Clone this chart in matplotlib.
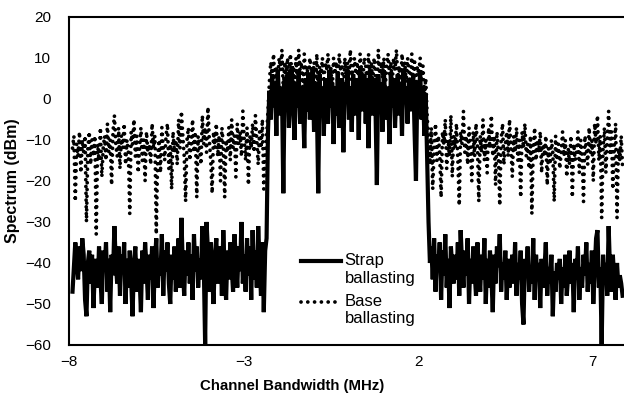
import numpy as np
import matplotlib
matplotlib.use("Agg")
import matplotlib.pyplot as plt

plt.rcParams["font.family"] = ["Liberation Sans", "DejaVu Sans"]

# frequency span of the captured trace (MHz), samples evenly spaced
FREQ_START = -7.90
FREQ_STOP = 7.86

# Strap ballasting spectrum (dBm)
strap_dbm = [
    # lower side
    -47, -41, -35, -39, -44, -36, -42, -34, -38, -49,
    -53, -40, -37, -45, -38, -51, -42, -39, -46, -36,
    -44, -50, -37, -41, -35, -47, -39, -52, -38, -43,
    -31, -40, -45, -36, -48, -38, -42, -35, -50, -39,
    -46, -37, -44, -53, -40, -36, -47, -39, -43, -52,
    -37, -45, -35, -41, -49, -38, -44, -36, -51, -40,
    -34, -46, -39, -43, -33, -48, -37, -42, -35, -45,
    -50, -38, -44, -36, -47, -40, -34, -46, -29, -41,
    -48, -37, -43, -35, -45, -38, -49, -33, -42, -36,
    -46, -39, -44, -31, -40, -60, -30, -37, -47, -35,
    -43, -50, -38, -34, -45, -40, -36, -48, -32, -42,
    -49, -37, -44, -35, -41, -47, -33, -39, -46, -36,
    -42, -30, -45, -38, -47, -34, -43, -36, -49, -32,
    -44, -37, -46, -31, -40, -48, -35, -52, -37, -34,
    # in-channel
    -8, 2, -5, 6, -2, 4, -9, 7, 0, -4,
    3, -23, 5, -3, 6, -7, 2, 8, -1, -10,
    4, -2, 7, -6, 3, 0, -12, 5, -3, 6,
    -5, 2, 7, -8, 4, -1, -23, 6, -4, 3,
    -9, 5, 1, -6, 7, -2, 4, -11, 3, -4,
    6, -7, 2, 5, -13, 4, -1, 7, -5, 3,
    -8, 6, 0, -4, 5, -10, 8, 2, -3, 6,
    -6, 4, -12, 7, 1, -4, 5, -2, -21, 6,
    -3, 4, -8, 7, 0, -5, 3, -11, 6, -2,
    5, -7, 2, 6, -4, 4, -9, 7, -1, 3,
    -6, 5, 0, -3, 6, -8, -20, 4, -2, 7,
    -5, 3, -9, 1, -14,
    # upper side
    -30, -40, -36, -44, -34, -47, -38, -42, -35, -49,
    -37, -43, -33, -46, -39, -51, -36, -41, -45, -38,
    -44, -35, -48, -32, -40, -46, -37, -43, -34, -50,
    -39, -45, -36, -42, -48, -35, -41, -47, -38, -44,
    -34, -50, -39, -46, -37, -43, -52, -38, -45, -36,
    -41, -33, -47, -40, -44, -37, -49, -39, -46, -42,
    -38, -45, -35, -48, -40, -44, -37, -50, -55, -39,
    -43, -36, -47, -41, -45, -34, -49, -38, -44, -40,
    -51, -39, -46, -42, -35, -48, -41, -45, -38, -53,
    -42, -47, -40, -44, -39, -50, -41, -46, -38, -48,
    -43, -37, -45, -40, -52, -39, -44, -36, -49, -41,
    -46, -38, -43, -35, -47, -40, -45, -37, -50, -42,
    -34, -32, -46, -41, -60, -38, -45, -40, -48, -31,
    -42, -47, -38, -44, -49, -40, -46, -43, -45, -48,
]

# Base ballasting spectrum (dBm)
base_dbm = [
    # lower side
    -12, -9, -25, -11, -14, -8, -18, -10, -13, -9,
    -30, -12, -8, -16, -10, -14, -9, -33, -11, -15,
    -7, -19, -12, -9, -15, -6, -13, -10, -21, -8,
    -4, -11, -14, -7, -17, -9, -12, -6, -16, -10,
    -13, -28, -8, -11, -5, -14, -9, -18, -12, -7,
    -15, -10, -20, -8, -13, -11, -16, -6, -12, -9,
    -33, -14, -10, -18, -7, -12, -15, -9, -6, -17,
    -11, -22, -8, -13, -10, -16, -5, -12, -3, -9,
    -14, -25, -10, -7, -15, -11, -5, -13, -8, -24,
    -9, -12, -16, -4, -11, -7, -13, -2, -10, -15,
    -23, -8, -12, -6, -14, -9, -20, -7, -11, -24,
    -10, -13, -7, -15, -5, -12, -9, -19, -6, -11,
    -8, -14, -3, -10, -15, -7, -21, -9, -12, -6,
    -13, -4, -10, -16, -8, -12, -5, -22, -14, -9,
    # in-channel
    -3, 4, 9, 6, 11, 3, 8, 5, 10, 7,
    12, 2, 9, 6, 10, 4, 11, 7, 8, 3,
    10, 5, 12, 7, 9, 2, 11, 6, 8, 4,
    10, 7, 5, 9, 3, 11, -2, 8, 6, 10,
    4, 9, 7, 11, 5, 8, 2, 10, 6, 9,
    3, 11, 7, 8, 0, 10, 5, 9, 6, 12,
    4, 8, 10, 6, 9, 2, 11, 7, 5, 10,
    8, 3, 11, 6, 9, 4, 10, 7, -1, 12,
    6, 9, 5, 10, 3, 8, 11, 6, 9, 4,
    10, 7, 12, 5, 8, 2, 11, 6, 9, 4,
    10, 7, 3, 11, 5, 9, 0, 8, 6, 10,
    4, 8, 1, 5, -4,
    # upper side
    -10, -16, -7, -22, -12, -6, -15, -9, -13, -24,
    -8, -11, -5, -17, -10, -14, -4, -19, -9, -12,
    -6, -15, -26, -8, -11, -3, -13, -9, -16, -7,
    -12, -20, -8, -14, -6, -11, -25, -9, -13, -5,
    -15, -10, -18, -7, -12, -4, -14, -9, -21, -8,
    -13, -26, -10, -6, -16, -11, -8, -14, -5, -12,
    -19, -9, -13, -7, -15, -10, -24, -8, -12, -6,
    -14, -11, -17, -9, -28, -12, -7, -15, -10, -13,
    -8, -18, -11, -14, -9, -21, -12, -16, -10, -13,
    -25, -9, -15, -11, -17, -13, -8, -14, -10, -19,
    -12, -16, -9, -24, -11, -15, -13, -8, -18, -10,
    -14, -25, -9, -12, -16, -7, -13, -10, -20, -6,
    -11, -4, -15, -9, -29, -12, -7, -18, -10, -3,
    -13, -8, -22, -11, -6, -29, -12, -15, -9, -17,
]

x_ticks = [-8, -3, 2, 7]
y_ticks = [20, 10, 0, -10, -20, -30, -40, -50, -60]

freq = np.linspace(FREQ_START, FREQ_STOP, len(strap_dbm))

fig = plt.figure(figsize=(6.24, 4.03), dpi=100)
ax = fig.add_axes([0.1106, 0.144, 0.895, 0.814])

ax.plot(freq, strap_dbm, color="black", lw=3.0, solid_joinstyle="miter",
        label="Strap\nballasting")
ax.plot(freq, base_dbm, color="black", lw=2.7, linestyle=(0, (0.01, 1.8)),
        dash_capstyle="round", label="Base\nballasting")

ax.set_xlim(-8, 8)
ax.set_ylim(-60, 20)
ax.set_xticks(x_ticks)
ax.set_yticks(y_ticks)
ax.tick_params(length=0, labelsize=11)
ax.tick_params(axis="y", pad=13)
ax.tick_params(axis="x", pad=7)
for s in ax.spines.values():
    s.set_linewidth(1.5)

ax.set_xlabel("Channel Bandwidth (MHz)", fontsize=10.8, fontweight="bold")
ax.set_ylabel("Spectrum (dBm)", fontsize=11.5, fontweight="bold")
ax.xaxis.set_label_coords(0.40, -0.105)
ax.yaxis.set_label_coords(-0.088, 0.5)

leg = ax.legend(loc="upper left", bbox_to_anchor=(0.404, 0.30), frameon=False,
                fontsize=12, handlelength=2.4, handletextpad=0.2,
                labelspacing=0.5, borderaxespad=0)
# put each legend sample level with the first line of its label
for ln in leg.get_lines():
    ln.set_ydata(np.asarray(ln.get_ydata()) + 6)

fig.savefig("out.png", dpi=100)
